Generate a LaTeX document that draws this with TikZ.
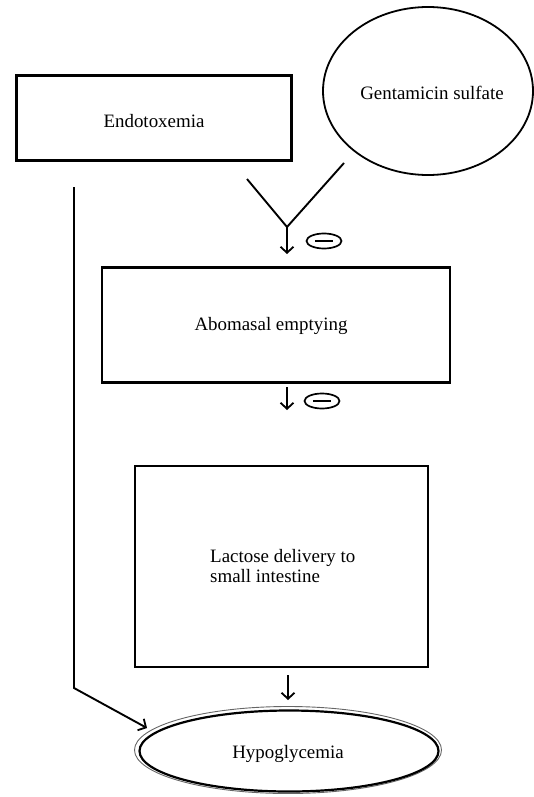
\documentclass[tikz,border=0pt]{standalone}
\usepackage{fontspec}
\setmainfont{Liberation Serif}
\usetikzlibrary{shapes.geometric,arrows.meta}
\begin{document}
\begin{tikzpicture}[x=1bp,y=-1bp,
  box/.style={draw=black,line width=2.1bp,rectangle,inner sep=0pt},
  oval/.style={draw=black,line width=1.8bp,ellipse,inner sep=0pt},
  lbl/.style={font=\fontsize{19}{21}\selectfont,inner sep=0pt},
  conn/.style={line width=1.9bp},
  stick/.style={-{Straight Barb[length=6bp,width=13bp,line width=1.8bp]}},
  minus/.style={draw=black,line width=1.7bp,ellipse,minimum width=35bp,minimum height=15bp,inner sep=0pt}
]
\useasboundingbox (0,0) rectangle (534,797);
% boxes
\node[box,minimum width=275bp,minimum height=85bp] (endo) at (154,118) {};
\node[lbl] at (154,121) {Endotoxemia};
\node[oval,minimum width=210bp,minimum height=168bp] (gent) at (428,91) {};
\node[lbl] at (432,93) {Gentamicin sulfate};
\node[box,minimum width=348bp,minimum height=115bp] (abo) at (276,325) {};
\node[lbl] at (271,326) {Abomasal emptying};
\node[box,minimum width=293bp,minimum height=201bp] (lac) at (281.5,566.5) {};
\node[lbl,anchor=west,align=left] at (210,566) {Lactose delivery to\\small intestine};
\node[draw=black!60,line width=0.9bp,ellipse,minimum width=307bp,minimum height=87bp,inner sep=0pt] (hypoout) at (288,750) {};
\node[draw=black,line width=2.2bp,ellipse,minimum width=299bp,minimum height=81bp,inner sep=0pt] (hypo) at (289,751) {};
\node[lbl] at (288,754) {Hypoglycemia};
% V junction
\coordinate (vl) at (247,179);
\coordinate (vr) at (344,163);
\coordinate (vj) at (287,227);
\coordinate (a1) at (287,254);
\draw[conn] (vl) -- (vj) -- (vr);
\draw[conn,stick] (vj) -- (a1);
\node[minus] (m1) at (324,241) {};
\draw[line width=2.4bp] ([xshift=-9bp]m1.center) -- ([xshift=9bp]m1.center);
% arrow 2
\coordinate (a2s) at (287,387);
\coordinate (a2e) at (287,410);
\draw[conn,stick] (a2s) -- (a2e);
\node[minus] (m2) at (322,401) {};
\draw[line width=2.4bp] ([xshift=-9bp]m2.center) -- ([xshift=9bp]m2.center);
% arrow 3
\coordinate (a3s) at (288,675);
\coordinate (a3e) at (288,700);
\draw[conn,stick] (a3s) -- (a3e);
% left line
\coordinate (l1) at (74,187);
\coordinate (l2) at (74,688);
\coordinate (l3) at (147,728);
\draw[conn,stick] (l1) -- (l2) -- (l3);
\end{tikzpicture}
\end{document}
